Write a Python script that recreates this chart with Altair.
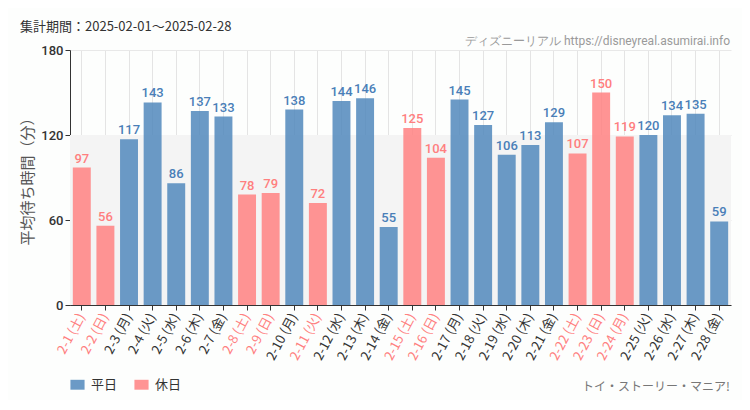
import altair as alt
import pandas as pd

dates = ["2-1", "2-2", "2-3", "2-4", "2-5", "2-6", "2-7", "2-8", "2-9", "2-10",
         "2-11", "2-12", "2-13", "2-14", "2-15", "2-16", "2-17", "2-18", "2-19", "2-20",
         "2-21", "2-22", "2-23", "2-24", "2-25", "2-26", "2-27", "2-28"]
weekdays = ["土", "日", "月", "火", "水", "木", "金", "土", "日", "月",
            "火", "水", "木", "金", "土", "日", "月", "火", "水", "木",
            "金", "土", "日", "月", "火", "水", "木", "金"]
waits = [97, 56, 117, 143, 86, 137, 133, 78, 79, 138,
         72, 144, 146, 55, 125, 104, 145, 127, 106, 113,
         129, 107, 150, 119, 120, 134, 135, 59]
day_types = ["休日", "休日", "平日", "平日", "平日", "平日", "平日", "休日", "休日", "平日",
             "休日", "平日", "平日", "平日", "休日", "休日", "平日", "平日", "平日", "平日",
             "平日", "休日", "休日", "休日", "平日", "平日", "平日", "平日"]
type_names = ["平日", "休日"]
type_colors = ["#5188bc", "#ff8181"]
text_colors = ["#4a7fb8", "#ff7f7f"]
band_low = [0]
band_high = [120]

labels = [f"{d} ({w})" for d, w in zip(dates, weekdays)]
holiday_labels = [l for l, t in zip(labels, day_types) if t == "休日"]

df = pd.DataFrame({"label": labels, "wait": waits, "type": day_types})
band_df = pd.DataFrame({"lo": band_low, "hi": band_high})

W, H = 661, 255
cjk = "Noto Sans CJK JP"

hol_js = "[" + ",".join(f"'{l}'" for l in holiday_labels) + "]"

xenc = alt.X("label:N", sort=labels, title=None,
             scale=alt.Scale(paddingInner=0.24, paddingOuter=0.12),
             axis=alt.Axis(labelAngle=-62, labelFontSize=13, labelFont=cjk,
                           labelColor={"expr": f"indexof({hol_js}, datum.value) >= 0 ? '#ff8080' : '#333333'"},
                           grid=True, gridColor="#e4e4e4", domainColor="#333333",
                           tickColor="#333333", tickSize=5, labelPadding=4))
yscale = alt.Scale(domain=[0, 180])

band = alt.Chart(band_df).mark_rect(color="#f4f4f4").encode(
    y=alt.Y("lo:Q", scale=yscale), y2="hi:Q")

bars = alt.Chart(df).mark_bar(opacity=0.85).encode(
    x=xenc,
    y=alt.Y("wait:Q", scale=yscale, title="平均待ち時間（分）",
            axis=alt.Axis(values=[0, 60, 120, 180], labelFontSize=13, labelColor="#333333",
                          labelFont="Roboto", labelFontWeight=500, titleFont=cjk,
                          titleFontSize=15, titleColor="#555555", titleFontWeight="normal",
                          titlePadding=5, grid=True, gridColor="#e8e8e8",
                          domainColor="#333333", tickColor="#333333", tickSize=5)),
    color=alt.Color("type:N", scale=alt.Scale(domain=type_names, range=type_colors),
                    legend=alt.Legend(title=None, orient="none", legendX=0, legendY=327,
                                      direction="horizontal",
                                      symbolType="M-1,-0.7H1V0.7H-1Z", symbolSize=200,
                                      symbolOpacity=0.85, labelFontSize=13,
                                      labelFont=cjk, labelColor="#333333",
                                      columnPadding=16, labelOffset=6, symbolStrokeWidth=0)),
)

vals = alt.Chart(df).mark_text(dy=-9, fontSize=13, font="Roboto", fontWeight=500).encode(
    x=alt.X("label:N", sort=labels),
    y=alt.Y("wait:Q", scale=yscale),
    text="wait:Q",
    color=alt.Color("type:N", scale=alt.Scale(domain=type_names, range=text_colors), legend=None),
)

title_df = pd.DataFrame({"t": ["集計期間：2025-02-01～2025-02-28"]})
title = alt.Chart(title_df).mark_text(align="left", baseline="alphabetic", fontSize=13,
                                      font=cjk, color="#333333").encode(
    x=alt.value(-50), y=alt.value(-19), text="t:N")

site_df = pd.DataFrame({"t": ["ディズニーリアル https://disneyreal.asumirai.info"]})
site = alt.Chart(site_df).mark_text(align="right", baseline="alphabetic", fontSize=12,
                                    font="Roboto", color="#9a9a9a").encode(
    x=alt.value(660), y=alt.value(-5), text="t:N")

attr_df = pd.DataFrame({"t": ["トイ・ストーリー・マニア!"]})
attr = alt.Chart(attr_df).mark_text(align="right", baseline="alphabetic", fontSize=12,
                                    font=cjk, color="#777777").encode(
    x=alt.value(660), y=alt.value(341), text="t:N")

chart = alt.layer(band, bars, vals, title, site, attr).resolve_scale(color="independent").properties(
    width=W, height=H,
    autosize=alt.AutoSizeParams(type="none"),
    padding={"left": 62, "top": 42, "right": 11, "bottom": 95},
    background="#fdfefd",
).configure_view(stroke=None).configure_axis(labelOverlap=False)

chart.save("out.html", embed_options={"renderer": "svg", "actions": False})
